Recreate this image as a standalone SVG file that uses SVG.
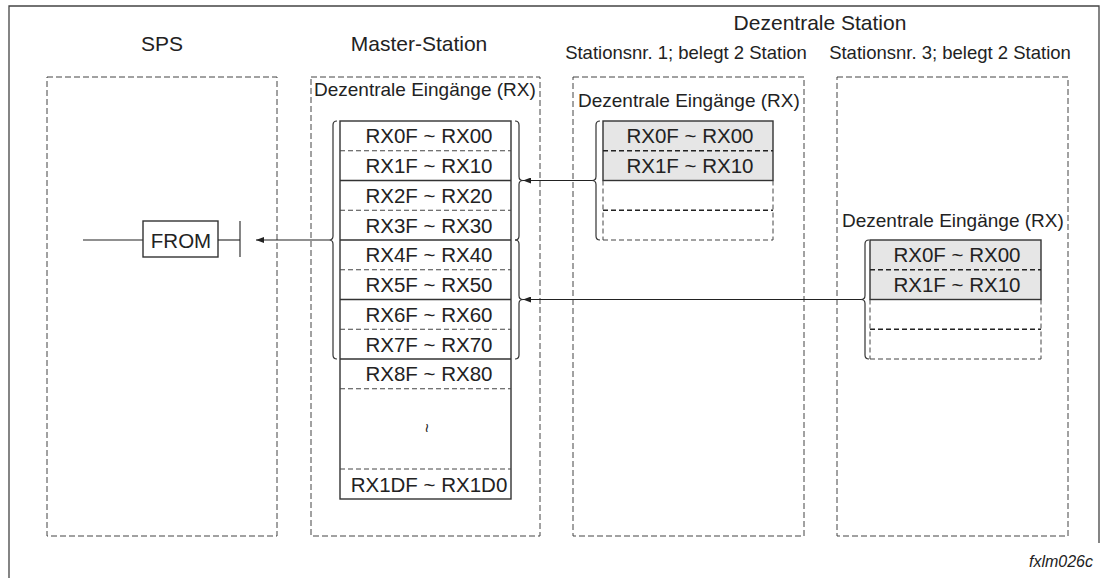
<svg xmlns="http://www.w3.org/2000/svg" width="1105" height="578" viewBox="0 0 1105 578">
  <style>
    text { font-family: "Liberation Sans", Arial, sans-serif; fill: #222; }
    .title { font-size: 21px; text-anchor: middle; }
    .sub { font-size: 18.5px; text-anchor: middle; }
    .lbl { font-size: 19px; }
    .cell { font-size: 20.5px; text-anchor: middle; }
    .frame { fill: none; stroke: #444; stroke-width: 1.3; }
    .area { fill: none; stroke: #444; stroke-width: 1; stroke-dasharray: 6 3; }
    .box { fill: #fff; stroke: #333; stroke-width: 1.4; }
    .boxg { fill: #e6e6e6; stroke: #333; stroke-width: 1.4; }
    .solid { stroke: #333; stroke-width: 1.4; fill: none; }
    .dash { stroke: #444; stroke-width: 1; stroke-dasharray: 5 3; fill: none; }
    .dashb { stroke: #222; stroke-width: 1.4; stroke-dasharray: 5 3; fill: none; }
    .brace { stroke: #333; stroke-width: 1.2; fill: none; }
    .wire { stroke: #222; stroke-width: 1.1; fill: none; }
  </style>
  <defs>
    <marker id="arrow" viewBox="0 0 8 6" refX="8" refY="3" markerWidth="8" markerHeight="6" markerUnits="userSpaceOnUse" orient="auto">
      <path d="M0,0 L8,3 L0,6 Z" fill="#222"/>
    </marker>
  </defs>

  <!-- outer frame -->
  <path class="frame" d="M9,578 L9,6 L1099,6 L1099,543"/>

  <!-- column headings -->
  <text class="title" x="162" y="51">SPS</text>
  <text class="title" x="419" y="51">Master-Station</text>
  <text class="title" x="820" y="30">Dezentrale Station</text>
  <text class="sub" x="686" y="59">Stationsnr. 1; belegt 2 Station</text>
  <text class="sub" x="950" y="59">Stationsnr. 3; belegt 2 Station</text>

  <!-- SPS -->
  <g id="sps">
    <rect class="area" x="47" y="77" width="230" height="459"/>
    <line class="wire" x1="83" y1="240" x2="143" y2="240"/>
    <rect class="box" x="143" y="221" width="75" height="36"/>
    <text x="181" y="247.5" style="font-size:20.5px;text-anchor:middle">FROM</text>
    <line class="wire" x1="218" y1="240" x2="240" y2="240"/>
    <line class="wire" x1="240" y1="221" x2="240" y2="257"/>
  </g>

  <!-- master station input area -->
  <g id="master">
    <rect class="area" x="311" y="77" width="229" height="459"/>
    <text class="lbl" x="314" y="96">Dezentrale Eingänge (RX)</text>
    <rect class="box" x="340" y="121" width="171" height="378"/>
    <line class="dash" x1="340" y1="150.75" x2="511" y2="150.75"/>
    <line class="solid" x1="340" y1="180.5" x2="511" y2="180.5"/>
    <line class="dash" x1="340" y1="210.25" x2="511" y2="210.25"/>
    <line class="solid" x1="340" y1="240" x2="511" y2="240"/>
    <line class="dash" x1="340" y1="269.75" x2="511" y2="269.75"/>
    <line class="solid" x1="340" y1="299.5" x2="511" y2="299.5"/>
    <line class="dash" x1="340" y1="329.25" x2="511" y2="329.25"/>
    <line class="solid" x1="340" y1="359" x2="511" y2="359"/>
    <line class="dash" x1="340" y1="388.75" x2="511" y2="388.75"/>
    <line class="dash" x1="340" y1="469" x2="511" y2="469"/>
    <text class="cell" x="429" y="143.4">RX0F ~ RX00</text>
    <text class="cell" x="429" y="173.1">RX1F ~ RX10</text>
    <text class="cell" x="429" y="202.9">RX2F ~ RX20</text>
    <text class="cell" x="429" y="232.6">RX3F ~ RX30</text>
    <text class="cell" x="429" y="262.4">RX4F ~ RX40</text>
    <text class="cell" x="429" y="292.1">RX5F ~ RX50</text>
    <text class="cell" x="429" y="321.9">RX6F ~ RX60</text>
    <text class="cell" x="429" y="351.6">RX7F ~ RX70</text>
    <text class="cell" x="429" y="381.4">RX8F ~ RX80</text>
    <text x="426" y="433" transform="rotate(90 426 428)" style="font-size:16px;text-anchor:middle">~</text>
    <text class="cell" x="429" y="491.5">RX1DF ~ RX1D0</text>
    <!-- braces grouping the rows -->
    <path class="brace" d="M337,121 Q333,121 333,125 L333,236 Q333,240 329,240 Q333,240 333,244 L333,355 Q333,359 337,359"/>
    <path class="brace" d="M515,121 Q519,121 519,125 L519,176.5 Q519,180.5 523,180.5 Q519,180.5 519,184.5 L519,236 Q519,240 515,240"/>
    <path class="brace" d="M515,240 Q519,240 519,244 L519,295.5 Q519,299.5 523,299.5 Q519,299.5 519,303.5 L519,355 Q519,359 515,359"/>
  </g>

  <!-- remote station no. 1 -->
  <g id="station1">
    <rect class="area" x="573" y="77" width="231" height="459"/>
    <text class="lbl" x="578" y="107">Dezentrale Eingänge (RX)</text>
    <rect class="boxg" x="603" y="121" width="170" height="59.5"/>
    <line class="dashb" x1="603" y1="150.75" x2="773" y2="150.75"/>
    <line class="dash" x1="603" y1="180.5" x2="603" y2="240"/>
    <line class="dash" x1="773" y1="180.5" x2="773" y2="240"/>
    <line class="dashb" x1="603" y1="210.25" x2="773" y2="210.25"/>
    <line class="dash" x1="603" y1="240" x2="773" y2="240"/>
    <text class="cell" x="690" y="143.4">RX0F ~ RX00</text>
    <text class="cell" x="690" y="173.1">RX1F ~ RX10</text>
    <path class="brace" d="M600,121 Q596,121 596,125 L596,176.5 Q596,180.5 592,180.5 Q596,180.5 596,184.5 L596,236 Q596,240 600,240"/>
  </g>

  <!-- remote station no. 3 -->
  <g id="station3">
    <rect class="area" x="837" y="77" width="231" height="459"/>
    <text class="lbl" x="842" y="227">Dezentrale Eingänge (RX)</text>
    <rect class="boxg" x="870" y="240" width="171" height="59.5"/>
    <line class="dashb" x1="870" y1="269.75" x2="1041" y2="269.75"/>
    <line class="dash" x1="870" y1="299.5" x2="870" y2="359"/>
    <line class="dash" x1="1041" y1="299.5" x2="1041" y2="359"/>
    <line class="dashb" x1="870" y1="329.25" x2="1041" y2="329.25"/>
    <line class="dash" x1="870" y1="359" x2="1041" y2="359"/>
    <text class="cell" x="957" y="262.4">RX0F ~ RX00</text>
    <text class="cell" x="957" y="292.1">RX1F ~ RX10</text>
    <path class="brace" d="M869,240 Q865,240 865,244 L865,295.5 Q865,299.5 861,299.5 Q865,299.5 865,303.5 L865,355 Q865,359 869,359"/>
  </g>

  <!-- data transfer connectors -->
  <g id="connectors">
    <line class="wire" x1="592" y1="180.5" x2="523" y2="180.5" marker-end="url(#arrow)"/>
    <line class="wire" x1="861" y1="299.5" x2="523" y2="299.5" marker-end="url(#arrow)"/>
    <line class="wire" x1="329" y1="240" x2="256" y2="240" marker-end="url(#arrow)"/>
  </g>

  <text x="1093" y="567" style="font-size:16px;font-style:italic;text-anchor:end">fxlm026c</text>
</svg>
